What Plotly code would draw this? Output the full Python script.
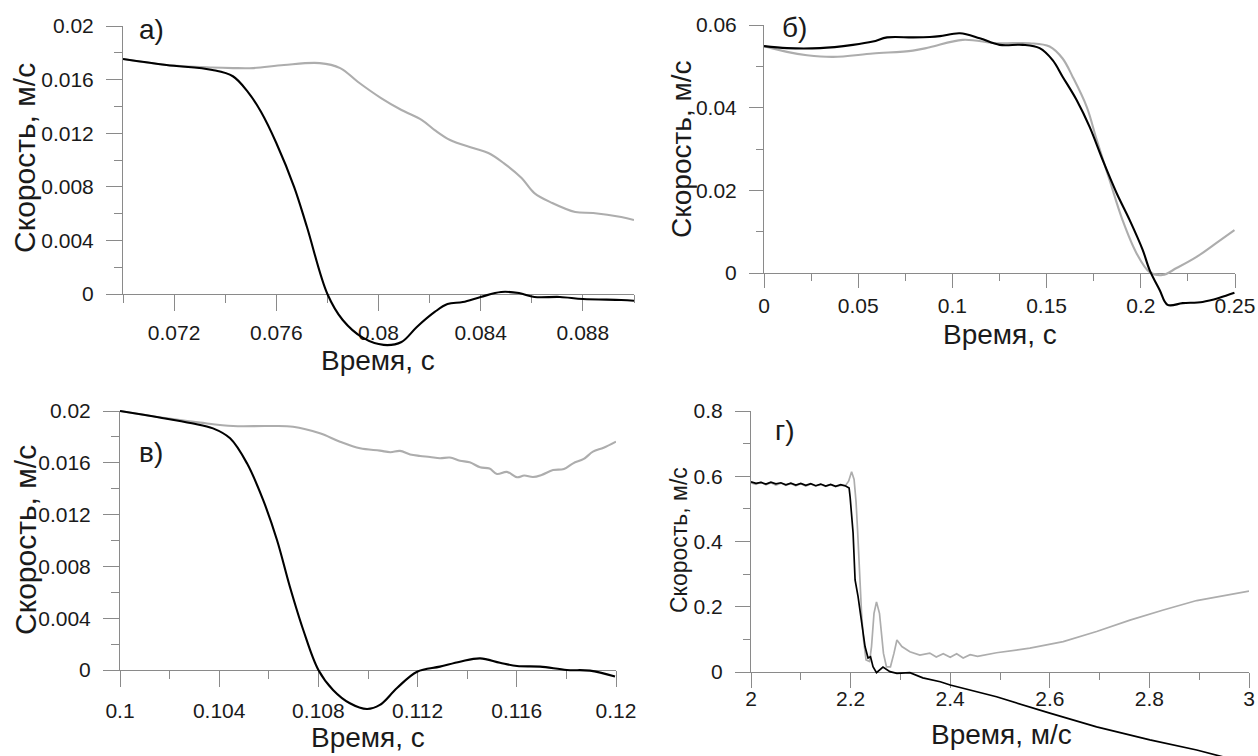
import plotly.graph_objects as go

# ---------------- DATA ----------------
# Panel а)
a_x_black = [0.0700, 0.0717, 0.0735, 0.0743, 0.0749, 0.0754, 0.0760, 0.0767, 0.0772, 0.0780,
             0.0786, 0.0794, 0.0802, 0.0809, 0.0815, 0.0822, 0.0827, 0.0833, 0.0840, 0.0848, 0.0855,
             0.0861, 0.0871, 0.0880, 0.0895, 0.0900]
a_y_black = [0.01754, 0.01709, 0.01672, 0.01625, 0.01505, 0.01360, 0.01127, 0.00798, 0.00500, 0.0000,
             -0.00194, -0.00328, -0.00380, -0.00358, -0.00246, -0.00134, -0.00075, -0.00060, -0.00022, 0.00015, 0.00007,
             -0.00022, -0.00022, -0.00037, -0.00045, -0.00050]
a_x_gray = [0.0700, 0.0717, 0.0735, 0.0743, 0.0751, 0.0763, 0.0777, 0.0785, 0.0792, 0.0801, 0.0809, 0.0817,
            0.0822, 0.0828, 0.0837, 0.0843, 0.0849, 0.0856, 0.0861, 0.0868, 0.0877, 0.0884, 0.0895, 0.0900]
a_y_gray = [0.01754, 0.01709, 0.01690, 0.01686, 0.01686, 0.01709, 0.01723, 0.01686, 0.01582, 0.01462, 0.01373, 0.01298,
            0.01223, 0.01149, 0.01089, 0.01052, 0.00977, 0.00865, 0.00753, 0.00679, 0.00612, 0.00604, 0.00574, 0.00552]

# Panel б)
b_x_black = [0.0, 0.0122, 0.0297, 0.0472, 0.0578, 0.0653, 0.0790, 0.0880, 0.0934, 0.1040, 0.1145, 0.1251,
             0.1373, 0.1463, 0.1532, 0.1585, 0.1660, 0.1729, 0.1798, 0.1872, 0.1941, 0.2010, 0.2047, 0.2100,
             0.2142, 0.2222, 0.2328, 0.2418, 0.2497]
b_y_black = [0.0549, 0.0544, 0.0544, 0.0552, 0.0560, 0.0570, 0.0570, 0.0571, 0.0573, 0.0580, 0.0568, 0.0552,
             0.0552, 0.0544, 0.0515, 0.0475, 0.0418, 0.0353, 0.0273, 0.0193, 0.0128, 0.0056, 0.0007, -0.0041,
             -0.0077, -0.0073, -0.0070, -0.0060, -0.0048]
b_x_gray = [0.0, 0.0122, 0.0228, 0.0366, 0.0578, 0.0790, 0.0880, 0.1055, 0.1235, 0.1410, 0.1516, 0.1585,
            0.1638, 0.1713, 0.1766, 0.1834, 0.1903, 0.1977, 0.2047, 0.2115, 0.2190, 0.2296, 0.2402, 0.2497]
b_y_gray = [0.0549, 0.0535, 0.0527, 0.0523, 0.0531, 0.0538, 0.0546, 0.0564, 0.0556, 0.0556, 0.0548, 0.0519,
            0.0475, 0.0402, 0.0322, 0.0225, 0.0128, 0.0048, 0.0002, -0.0005, 0.0012, 0.0039, 0.0073, 0.0104]

# Panel в)
c_x_black = [0.1000, 0.1016, 0.1029, 0.10375, 0.10444, 0.10512, 0.10577, 0.10633, 0.10685, 0.10739, 0.1080,
             0.10859, 0.10927, 0.10996, 0.11048, 0.11117, 0.11198, 0.1129, 0.11371, 0.11452, 0.11532, 0.11601,
             0.11694, 0.11802, 0.11895, 0.11996]
c_y_black = [0.02000, 0.01950, 0.01905, 0.01866, 0.01789, 0.01596, 0.01313, 0.01004, 0.00643, 0.00309, 0.0000,
             -0.00154, -0.00257, -0.00301, -0.00270, -0.00139, -0.00013, 0.00026, 0.00064, 0.00090, 0.00056, 0.00031,
             0.00026, 0.00000, -0.00005, -0.00051]
c_x_gray = [0.1000, 0.1019, 0.10323, 0.10456, 0.10593, 0.10698, 0.10806, 0.10887, 0.10968, 0.11048, 0.11090,
            0.11129, 0.11170, 0.1121, 0.11250, 0.1129, 0.11330, 0.11371, 0.11410, 0.11452, 0.11490, 0.1152,
            0.11560, 0.11601, 0.11630, 0.11665, 0.11700, 0.11746, 0.11790, 0.11827, 0.11870, 0.11907, 0.11950,
            0.1200]
c_y_gray = [0.02000, 0.01943, 0.01910, 0.01884, 0.01884, 0.01879, 0.01828, 0.01763, 0.01712, 0.01694, 0.01682,
            0.01692, 0.01664, 0.01653, 0.01645, 0.01635, 0.01641, 0.01616, 0.01604, 0.01565, 0.01556, 0.01514,
            0.01530, 0.01488, 0.01502, 0.01490, 0.01506, 0.01544, 0.01552, 0.01596, 0.01630, 0.01686, 0.01716,
            0.01763]

# Panel г)
d_x_black = [2.00, 2.01, 2.02, 2.03, 2.04, 2.05, 2.06, 2.07, 2.08, 2.09, 2.10, 2.11, 2.12, 2.13, 2.14, 2.15,
             2.16, 2.17, 2.18, 2.19, 2.197, 2.199, 2.205, 2.209, 2.215, 2.222, 2.229, 2.235, 2.240, 2.245,
             2.252, 2.265, 2.279, 2.293, 2.319, 2.345, 2.380, 2.400, 2.493, 2.600, 2.694, 2.801, 2.895, 3.000]
d_y_black = [0.583, 0.578, 0.581, 0.576, 0.582, 0.577, 0.580, 0.574, 0.579, 0.573, 0.578, 0.572, 0.577, 0.571,
             0.576, 0.570, 0.575, 0.569, 0.574, 0.570, 0.564, 0.537, 0.426, 0.282, 0.231, 0.150, 0.078, 0.043,
             0.047, 0.016, -0.002, 0.015, 0.001, -0.004, -0.002, -0.018, -0.030, -0.040, -0.076, -0.126,
             -0.168, -0.208, -0.239, -0.281]
d_x_gray = [2.00, 2.01, 2.02, 2.03, 2.04, 2.05, 2.06, 2.07, 2.08, 2.09, 2.10, 2.11, 2.12, 2.13, 2.14, 2.15,
            2.16, 2.17, 2.18, 2.19, 2.196, 2.202, 2.207, 2.211, 2.214, 2.218, 2.222, 2.226, 2.231, 2.238,
            2.242, 2.247, 2.252, 2.258, 2.266, 2.272, 2.280, 2.287, 2.293, 2.303, 2.319, 2.339, 2.359, 2.372,
            2.386, 2.400, 2.413, 2.426, 2.440, 2.455, 2.493, 2.560, 2.627, 2.694, 2.761, 2.828, 2.895, 3.000]
d_y_gray = [0.580, 0.575, 0.582, 0.574, 0.580, 0.573, 0.579, 0.572, 0.578, 0.571, 0.577, 0.570, 0.576, 0.570,
            0.575, 0.569, 0.574, 0.568, 0.572, 0.572, 0.585, 0.614, 0.590, 0.520, 0.435, 0.282, 0.180, 0.098,
            0.037, 0.032, 0.078, 0.180, 0.215, 0.180, 0.057, 0.016, 0.016, 0.057, 0.098, 0.078, 0.062, 0.052,
            0.058, 0.046, 0.056, 0.045, 0.056, 0.043, 0.053, 0.048, 0.059, 0.073, 0.093, 0.124, 0.159, 0.190,
            0.219, 0.248]

# Tick values / labels
a_xt = [0.072, 0.076, 0.080, 0.084, 0.088]
a_xl = ["0.072", "0.076", "0.08", "0.084", "0.088"]
a_xm = [0.070, 0.074, 0.078, 0.082, 0.086, 0.090]
a_yt = [0, 0.004, 0.008, 0.012, 0.016, 0.02]
a_yl = ["0", "0.004", "0.008", "0.012", "0.016", "0.02"]
a_ym = [0.002, 0.006, 0.010, 0.014, 0.018]

b_xt = [0, 0.05, 0.10, 0.15, 0.20, 0.25]
b_xl = ["0", "0.05", "0.1", "0.15", "0.2", "0.25"]
b_xm = [0.025, 0.075, 0.125, 0.175, 0.225]
b_yt = [0, 0.02, 0.04, 0.06]
b_yl = ["0", "0.02", "0.04", "0.06"]
b_ym = [0.01, 0.03, 0.05]

c_xt = [0.100, 0.104, 0.108, 0.112, 0.116, 0.120]
c_xl = ["0.1", "0.104", "0.108", "0.112", "0.116", "0.12"]
c_xm = [0.102, 0.106, 0.110, 0.114, 0.118]
c_yt = a_yt
c_yl = a_yl
c_ym = a_ym

d_xt = [2.0, 2.2, 2.4, 2.6, 2.8, 3.0]
d_xl = ["2", "2.2", "2.4", "2.6", "2.8", "3"]
d_xm = [2.1, 2.3, 2.5, 2.7, 2.9]
d_yt = [0, 0.2, 0.4, 0.6, 0.8]
d_yl = ["0", "0.2", "0.4", "0.6", "0.8"]
d_ym = [0.1, 0.3, 0.5, 0.7]

y_title = "Скорость, м/с"
x_title_c = "Время, с"
x_title_ms = "Время, м/с"

# ---------------- LAYOUT ----------------
W, H = 1258, 756
FONT = "Arial, Liberation Sans, sans-serif"
AXC = "#8a8a8a"
TXT = "#1a1a1a"
BLACK = "#000000"
GRAY = "#adadad"


def fx(px):
    return px / W


def fy(py):
    return 1 - py / H


panels = [
    dict(x0=123, x1=634, yt=26, yb=294, xr=[0.070, 0.090], yr=[0, 0.02], dyb=370, dyt=20,
         xt=a_xt, xl=a_xl, xm=a_xm, ytv=a_yt, yl=a_yl, ym=a_ym, mj=16, mn=8, xso=4,
         sets=[(a_x_gray, a_y_gray, GRAY), (a_x_black, a_y_black, BLACK)], shape="spline", lw=2.1),
    dict(x0=764, x1=1235, yt=25, yb=273, xr=[0, 0.25], yr=[0, 0.06], dyb=330, dyt=15,
         xt=b_xt, xl=b_xl, xm=b_xm, ytv=b_yt, yl=b_yl, ym=b_ym, mj=14, mn=7, xso=0,
         sets=[(b_x_gray, b_y_gray, GRAY), (b_x_black, b_y_black, BLACK)], shape="spline", lw=2.1),
    dict(x0=120, x1=616, yt=411, yb=670, xr=[0.100, 0.120], yr=[0, 0.02], dyb=740, dyt=400,
         xt=c_xt, xl=c_xl, xm=c_xm, ytv=c_yt, yl=c_yl, ym=c_ym, mj=16, mn=8, xso=6,
         sets=[(c_x_gray, c_y_gray, GRAY), (c_x_black, c_y_black, BLACK)], shape="spline", lw=2.1),
    dict(x0=751, x1=1249, yt=411, yb=672, xr=[2.0, 3.0], yr=[0, 0.8], dyb=756, dyt=400,
         xt=d_xt, xl=d_xl, xm=d_xm, ytv=d_yt, yl=d_yl, ym=d_ym, mj=15, mn=7, xso=-7,
         sets=[(d_x_gray, d_y_gray, GRAY), (d_x_black, d_y_black, BLACK)], shape="linear", lw=1.7),
]

fig = go.Figure()
layout = {}

for i, p in enumerate(panels):
    vi = i + 1          # visible axes
    di = i + 5          # data axes
    vx = "x" if vi == 1 else f"x{vi}"
    vy = "y" if vi == 1 else f"y{vi}"
    dx, dy = f"x{di}", f"y{di}"
    vxk = "xaxis" if vi == 1 else f"xaxis{vi}"
    vyk = "yaxis" if vi == 1 else f"yaxis{vi}"

    xdom = [fx(p["x0"]), fx(p["x1"])]
    ydom = [fy(p["yb"]), fy(p["yt"])]
    common = dict(showline=True, linecolor=AXC, linewidth=1, ticks="outside", tickcolor=AXC,
                  tickwidth=1, ticklen=p["mj"], showgrid=False, zeroline=False, tickmode="array",
                  automargin=False, tickfont=dict(family=FONT, size=21, color=TXT), fixedrange=True)
    layout[vxk] = dict(common, domain=xdom, range=p["xr"], anchor=vy, tickvals=p["xt"], ticktext=p["xl"],
                       ticklabelstandoff=p["xso"],
                       minor=dict(tickmode="array", tickvals=p["xm"], ticks="outside", ticklen=p["mn"],
                                  tickcolor=AXC, tickwidth=1, showgrid=False))
    layout[vyk] = dict(common, domain=ydom, range=p["yr"], anchor=vx, tickvals=p["ytv"], ticktext=p["yl"],
                       ticklabelstandoff=8,
                       minor=dict(tickmode="array", tickvals=p["ym"], ticks="outside", ticklen=p["mn"],
                                  tickcolor=AXC, tickwidth=1, showgrid=False))
    fig.add_trace(go.Scatter(x=[], y=[], xaxis=vx, yaxis=vy, showlegend=False, hoverinfo="skip"))

    # data axes: same mapping, larger vertical extent so curves can run past the axes
    scale = (p["yr"][1] - p["yr"][0]) / (p["yb"] - p["yt"])
    lo = p["yr"][0] - (p["dyb"] - p["yb"]) * scale
    hi = p["yr"][1] + (p["yt"] - p["dyt"]) * scale
    layout[f"xaxis{di}"] = dict(domain=xdom, range=p["xr"], anchor=dy, visible=False, fixedrange=True,
                                automargin=False)
    layout[f"yaxis{di}"] = dict(domain=[fy(p["dyb"]), fy(p["dyt"])], range=[lo, hi], anchor=dx,
                                visible=False, fixedrange=True, automargin=False)
    for xs, ys, col in p["sets"]:
        fig.add_trace(go.Scatter(x=xs, y=ys, xaxis=dx, yaxis=dy, mode="lines",
                                 line=dict(color=col, width=p["lw"], shape=p["shape"], smoothing=1.0),
                                 showlegend=False, hoverinfo="skip"))

# Titles & panel labels as annotations (pixel positions)
ann_specs = [
    # text, cx, cy, size, angle
    (y_title, 25, 158, 30, -90),
    (x_title_c, 378, 360, 28, 0),
    (y_title, 681, 149, 28, -90),
    (x_title_c, 1000, 334, 28, 0),
    (y_title, 25, 540, 30, -90),
    (x_title_c, 368, 737, 28, 0),
    (y_title, 679, 540, 23, -90),
    (x_title_ms, 1001, 734, 28, 0),
    ("а)", 151, 29, 28, 0),
    ("б)", 794, 28, 28, 0),
    ("в)", 151, 452, 28, 0),
    ("г)", 785, 430, 28, 0),
]
annotations = []
for txt, cx, cy, size, ang in ann_specs:
    annotations.append(dict(text=txt, x=fx(cx), y=fy(cy), xref="paper", yref="paper",
                            xanchor="center", yanchor="middle", showarrow=False, textangle=ang,
                            font=dict(family=FONT, size=size, color=TXT)))

fig.update_layout(
    template="none",
    width=W, height=H, autosize=False,
    margin=dict(l=0, r=0, t=0, b=0, pad=0, autoexpand=False),
    paper_bgcolor="white", plot_bgcolor="rgba(0,0,0,0)",
    showlegend=False, annotations=annotations,
    font=dict(family=FONT, color=TXT),
    **layout,
)

fig.write_html("out.html", config={"displayModeBar": False})
